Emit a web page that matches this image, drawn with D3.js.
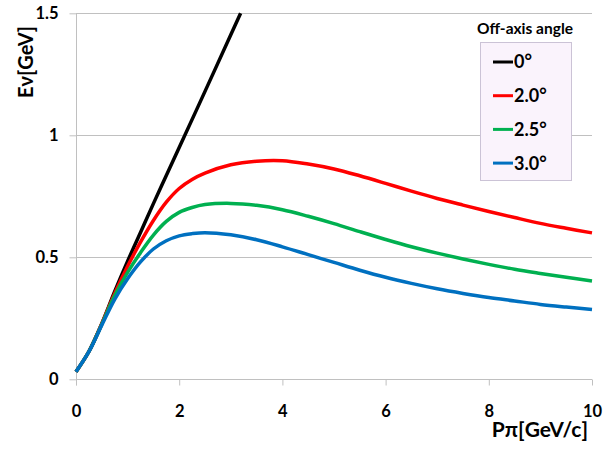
<!DOCTYPE html>
<html lang="en">
<head>
  <meta charset="UTF-8">
  <title>Off-axis neutrino energy</title>
  <style>
    body {
      margin: 0;
      overflow: hidden;
      background: #fff;
    }
    svg {
      width: 603px;
      height: 453px;
      background-color: #fff;
    }
    text {
      font-family: Lato, "Open Sans", sans-serif;
      font-weight: bold;
      fill: #000;
    }
    .grid line {
      stroke: #c0c0c0;
      stroke-width: 1px;
    }
    .axis path {
      display: none;
    }
    .axis line {
      stroke: #c0c0c0;
    }
    .axis text {
      font-size: 16.5px;
    }
    .curve {
      fill: none;
      stroke-width: 3.5px;
      stroke-linejoin: round;
    }
  </style>
</head>
<body>
  <svg></svg>
  <script src="https://d3js.org/d3.v7.min.js"></script>
  <script>
    // pion momentum (GeV/c) sampled for each curve
    const momentum = [0, 0.25, 0.5, 0.75, 1, 1.25, 1.5, 1.75, 2, 2.25, 2.5, 3, 3.5, 4, 4.5, 5, 5.5, 6, 6.5, 7, 7.5, 8, 8.5, 9, 9.5, 10];
    const momentumOnAxis = [0, 0.25, 0.5, 0.75, 1, 1.25, 1.5, 1.75, 2, 2.5, 3, 3.19];

    // neutrino energy (GeV)
    const ev0  = [0.031, 0.114, 0.228, 0.36, 0.484, 0.602, 0.72, 0.835, 0.95, 1.18, 1.412, 1.5];
    const ev20 = [0.031, 0.114, 0.228, 0.352, 0.463, 0.562, 0.651, 0.726, 0.782, 0.819, 0.845, 0.879, 0.894, 0.896, 0.882, 0.862, 0.834, 0.803, 0.771, 0.741, 0.714, 0.688, 0.663, 0.639, 0.619, 0.600];
    const ev25 = [0.031, 0.114, 0.226, 0.343, 0.438, 0.519, 0.591, 0.647, 0.684, 0.704, 0.716, 0.721, 0.713, 0.695, 0.668, 0.638, 0.605, 0.573, 0.543, 0.517, 0.493, 0.471, 0.451, 0.434, 0.418, 0.403];
    const ev30 = [0.031, 0.113, 0.222, 0.328, 0.412, 0.481, 0.534, 0.568, 0.588, 0.597, 0.601, 0.592, 0.572, 0.543, 0.511, 0.479, 0.447, 0.418, 0.393, 0.371, 0.352, 0.335, 0.321, 0.307, 0.296, 0.286];

    const angleLabels = ["0\u00b0", "2.0\u00b0", "2.5\u00b0", "3.0\u00b0"];
    const angleColors = ["#000000", "#ff0000", "#00b050", "#0070c0"];

    const xTicks = [0, 2, 4, 6, 8, 10];
    const yTicks = [0, 0.5, 1, 1.5];
    const yTickLabels = ["0", "0.5", "1", "1.5"];

    const svg = d3.select("svg");

    const x = d3.scaleLinear().domain([0, 10]).range([76, 592]);
    const y = d3.scaleLinear().domain([0, 1.5]).range([379.3, 13.3]);

    // horizontal gridlines
    svg.append("g")
      .attr("class", "grid")
      .selectAll("line")
      .data(yTicks)
      .join("line")
      .attr("x1", x(0))
      .attr("x2", x(10))
      .attr("y1", d => Math.round(y(d)) + 0.5)
      .attr("y2", d => Math.round(y(d)) + 0.5);

    // vertical axis line
    svg.append("line")
      .attr("x1", Math.round(x(0)) + 0.5)
      .attr("x2", Math.round(x(0)) + 0.5)
      .attr("y1", y(1.5))
      .attr("y2", y(0) + 6)
      .attr("stroke", "#c0c0c0");

    svg.append("g")
      .attr("class", "axis")
      .attr("transform", "translate(0," + (Math.round(y(0)) + 0.5) + ")")
      .call(d3.axisBottom(x).tickValues(xTicks).tickFormat(d3.format("d")).tickSize(6).tickPadding(20));

    svg.append("g")
      .attr("class", "axis")
      .attr("transform", "translate(" + (Math.round(x(0)) + 0.5) + ",0)")
      .call(d3.axisLeft(y).tickValues(yTicks).tickFormat((d, i) => yTickLabels[i]).tickSize(7).tickPadding(11));

    // axis titles
    svg.append("text")
      .attr("x", 588)
      .attr("y", 437)
      .attr("text-anchor", "end")
      .style("font-size", "21px")
      .text("P\u03c0[GeV/c]");

    svg.append("text")
      .attr("transform", "translate(33,62) rotate(-90)")
      .attr("text-anchor", "middle")
      .style("font-size", "20px")
      .text("E\u03bd[GeV]");

    // curves
    const line = d3.line()
      .x(d => x(d[0]))
      .y(d => y(d[1]))
      .curve(d3.curveCatmullRom.alpha(0.5));

    const series = [
      d3.zip(momentumOnAxis, ev0),
      d3.zip(momentum, ev20),
      d3.zip(momentum, ev25),
      d3.zip(momentum, ev30)
    ];

    svg.append("g")
      .selectAll("path")
      .data(series)
      .join("path")
      .attr("class", "curve")
      .attr("stroke", (d, i) => angleColors[i])
      .attr("d", line);

    // legend
    const legend = svg.append("g");

    legend.append("text")
      .attr("x", 525)
      .attr("y", 34)
      .attr("text-anchor", "middle")
      .style("font-size", "15.5px")
      .text("Off-axis angle");

    legend.append("rect")
      .attr("x", 480.5)
      .attr("y", 42.5)
      .attr("width", 91)
      .attr("height", 138)
      .attr("fill", "#faf3fc")
      .attr("stroke", "#cbc3d6");

    const entry = legend.selectAll("g.entry")
      .data(angleLabels)
      .join("g")
      .attr("class", "entry")
      .attr("transform", (d, i) => "translate(0," + (62 + i * 33.7) + ")");

    entry.append("line")
      .attr("x1", 493)
      .attr("x2", 513)
      .attr("stroke", (d, i) => angleColors[i])
      .attr("stroke-width", 3);

    entry.append("text")
      .attr("x", 514)
      .attr("dy", "0.36em")
      .style("font-size", "18px")
      .text(d => d);
  </script>
</body>
</html>
